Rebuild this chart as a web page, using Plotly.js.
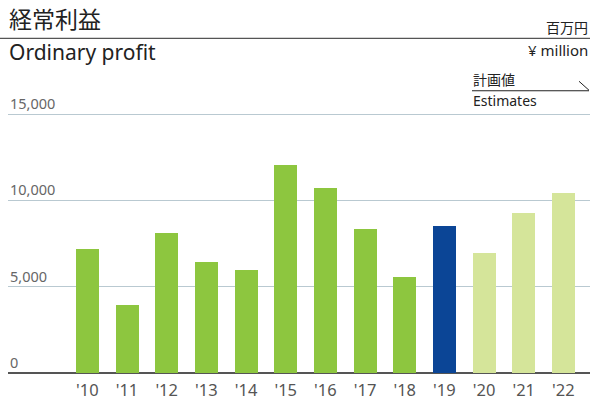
<!DOCTYPE html>
<html>
<head>
<meta charset="utf-8">
<script src="https://cdn.plot.ly/plotly-3.0.1.min.js"></script>
<style>html,body{margin:0;padding:0;background:#fff;}#chart{width:593px;height:401px;}</style>
</head>
<body>
<div id="chart"></div>
<script>
const years = ["'10","'11","'12","'13","'14","'15","'16","'17","'18","'19","'20","'21","'22"];
const profit = [7200, 3960, 8120, 6450, 5980, 12050, 10720, 8350, 5580, 8530, 6970, 9280, 10430];
const kinds = ["actual","actual","actual","actual","actual","actual","actual","actual","actual","current","estimate","estimate","estimate"];
const yTicks = [0, 5000, 10000, 15000];
const yTickLabels = ["0", "5,000", "10,000", "15,000"];

const kindColor = {actual: "#8dc63f", current: "#0b4596", estimate: "#d5e59a"};

const W = 593, H = 401;
const L = 8, R = 590, T = 108.8, B = 373.5;
const yMax = 15300;
const px = x => (x - L) / (R - L);
const py = y => (B - y) / (B - T);
const font = '"Noto Sans", "Noto Sans CJK JP", sans-serif';
const jfont = '"Noto Sans CJK JP", "Noto Sans", sans-serif';

const trace = {
  type: "bar",
  x: years.map((_, i) => i),
  y: profit,
  width: 0.58,
  marker: {color: kinds.map(k => kindColor[k])},
  hoverinfo: "x+y"
};

const ann = (text, x, y, size, xanchor, f) => ({
  text, xref: "paper", yref: "paper", x: px(x), y: py(y),
  xanchor, yanchor: "middle", showarrow: false,
  font: {family: f || font, size, color: "#222"}
});

const yLabelAnns = yTicks.map((v, i) => ({
  text: yTickLabels[i], xref: "paper", yref: "y", x: 0, y: v,
  xanchor: "left", yanchor: "bottom", yshift: -1, showarrow: false,
  font: {family: font, size: 14.5, color: "#666"}
}));

const layout = {
  width: W, height: H,
  margin: {l: L, r: W - R, t: T, b: H - B, pad: 0},
  paper_bgcolor: "#fff", plot_bgcolor: "#fff",
  showlegend: false,
  bargap: 0,
  xaxis: {
    range: [-2.0, 12.67],
    tickvals: years.map((_, i) => i),
    ticktext: years,
    showgrid: false, zeroline: false,
    showline: false,
    ticks: "", ticklen: 0,
    ticklabelstandoff: 5,
    tickfont: {family: font, size: 16.5, color: "#555"},
    fixedrange: true
  },
  yaxis: {
    range: [0, yMax],
    tickvals: yTicks,
    showticklabels: false,
    showgrid: true, gridcolor: "#b9c9d1", gridwidth: 1.3,
    zeroline: true, zerolinecolor: "#555", zerolinewidth: 1.8,
    showline: false, ticks: "",
    fixedrange: true
  },
  shapes: [
    {type: "line", xref: "paper", yref: "paper", x0: px(0), x1: px(590), y0: py(38), y1: py(38), line: {color: "#555", width: 1.3}},
    {type: "line", xref: "paper", yref: "paper", x0: px(472), x1: px(589), y0: py(90.5), y1: py(90.5), line: {color: "#222", width: 1.2}},
    {type: "line", xref: "paper", yref: "paper", x0: px(579), x1: px(589), y0: py(81), y1: py(90), line: {color: "#222", width: 1}}
  ],
  annotations: [
    ann("経常利益", 7, 18, 23, "left", jfont),
    ann("Ordinary profit", 7, 52, 21, "left"),
    ann("百万円", 590, 27, 14, "right", jfont),
    ann("¥ million", 590, 50, 15, "right"),
    ann("計画値", 471, 79, 14, "left", jfont),
    ann("Estimates", 471, 100, 14, "left")
  ].concat(yLabelAnns)
};

Plotly.newPlot("chart", [trace], layout, {displayModeBar: false, staticPlot: true});
</script>
</body>
</html>
